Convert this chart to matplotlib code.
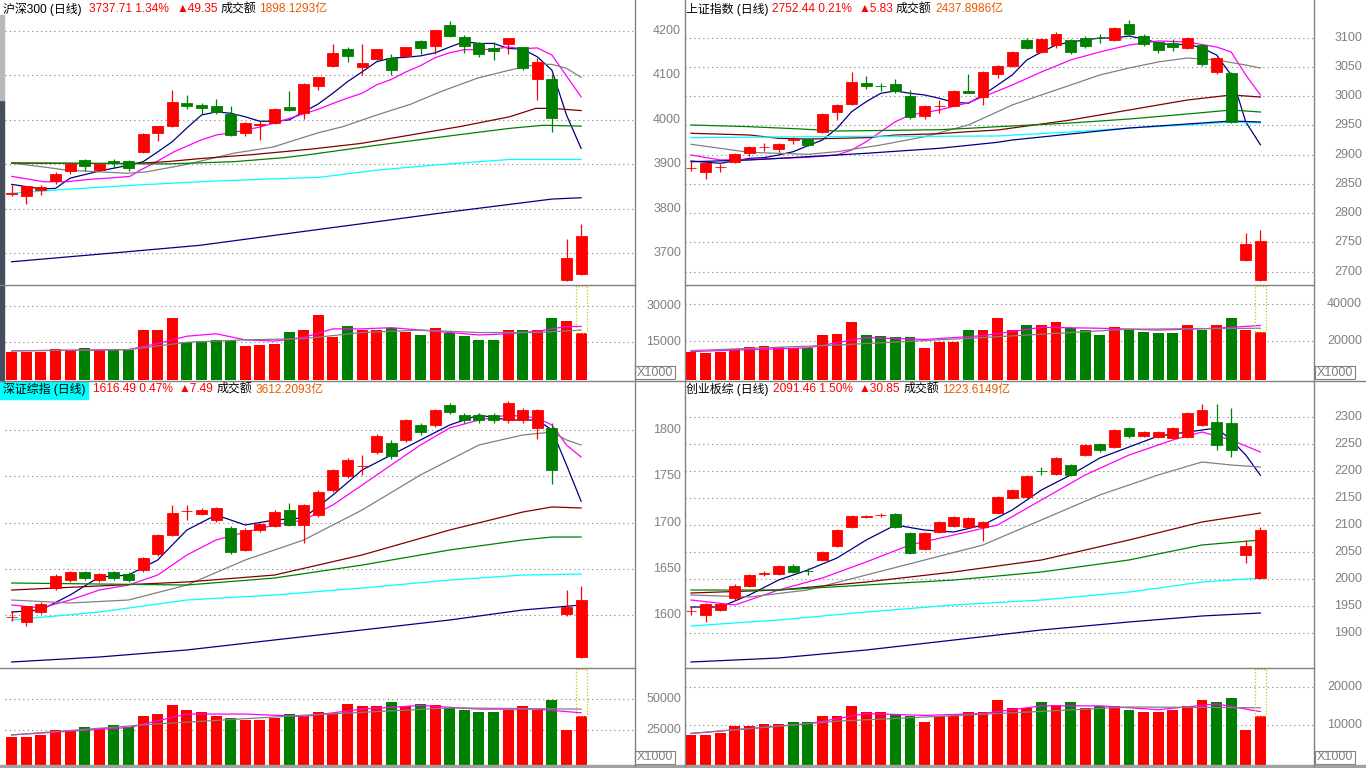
import matplotlib
matplotlib.use('Agg')
import matplotlib.pyplot as plt
from matplotlib.patches import Rectangle
from matplotlib.lines import Line2D
from matplotlib.transforms import blended_transform_factory

plt.rcParams['font.family'] = ['Liberation Sans', 'Noto Sans CJK SC', 'DejaVu Sans']

# ---------------- 沪深300 (top left) ----------------
HS_O = [3834.5, 3828, 3842, 3862, 3885, 3909, 3887, 3907, 3907, 3927, 3970, 3986, 4038, 4034, 4031, 4013,
        3971, 3988, 3994, 4029, 4016, 4077, 4121, 4159, 4119, 4137, 4139, 4144, 4177, 4166, 4214, 4186,
        4173, 4162, 4171, 4164, 4093, 4093, 3640, 3653]
HS_H = [3853, 3851, 3853, 3882, 3903, 3912, 3901, 3912, 3909, 3970, 3986, 4067, 4056, 4038, 4047, 4031,
        3995, 3997, 4027, 4065, 4083, 4097, 4171, 4164, 4171, 4160, 4148, 4165, 4180, 4203, 4223, 4191,
        4175, 4175, 4185, 4165, 4139, 4103, 3732, 3765]
HS_L = [3828, 3810, 3831, 3855, 3878, 3885, 3885, 3891, 3885, 3926, 3953, 3984, 4024, 4013, 4013, 3964,
        3964, 3955, 3991, 4020, 4002, 4068, 4120, 4131, 4101, 4135, 4101, 4141, 4148, 4148, 4186, 4151,
        4141, 4135, 4148, 4112, 4045, 3973, 3638, 3652]
HS_C = [3835, 3851, 3849, 3878, 3900, 3897, 3900, 3903, 3891, 3968, 3986, 4040, 4031, 4027, 4018, 3966,
        3993, 3991, 4024, 4023, 4081, 4096, 4150, 4144, 4128, 4159, 4112, 4164, 4162, 4202, 4189, 4167,
        4149, 4156, 4184, 4116, 4130, 4005, 3689, 3738]
HS_VOL = [11065, 11065, 11065, 12294, 11884, 12704, 11884, 12294, 11884, 20080, 20080, 24998, 15163, 15572,
          15982, 15982, 13523, 13933, 14343, 19261, 20080, 26227, 17212, 21719, 20080, 20080, 20900, 19261,
          18031, 20900, 18851, 17621, 15982, 15982, 20080, 20080, 20080, 24998, 23768, 18851]
HS_MA5 = [(0, 3855), (2, 3845), (3, 3846), (4, 3869), (6, 3885), (8, 3898), (9, 3906), (10, 3928), (11, 3951),
          (12, 3982), (13, 4011), (14, 4018), (15, 4015), (16, 4007), (17, 3997), (18, 3997), (19, 4000),
          (20, 4018), (21, 4036), (22, 4060), (23, 4086), (24, 4108), (25, 4131), (26, 4139), (27, 4141),
          (28, 4144), (29, 4151), (30, 4164), (31, 4176), (32, 4172), (33, 4172), (34, 4161), (35, 4159),
          (36, 4142), (37, 4112), (38, 4011), (39, 3936)]
HS_MA10 = [(0, 3873), (2.2, 3861), (3.8, 3861), (5.2, 3866), (7, 3870), (8.1, 3873), (8.8, 3887), (9.7, 3902),
           (11.1, 3928), (12.9, 3954), (14, 3966), (15.2, 3972), (17, 3984), (18.6, 3999), (21, 4024),
           (22, 4037), (23, 4049), (24, 4060), (25, 4079), (26, 4091), (27, 4108), (28, 4122), (29, 4140),
           (30, 4151), (31, 4158), (32, 4158), (33, 4159), (34, 4164), (35, 4160), (36, 4162), (37, 4146),
           (38, 4099), (39, 4052)]
HS_MA20 = [(0, 3903), (2.2, 3894), (3.8, 3887), (7.9, 3880), (9.2, 3883), (12, 3900), (15.2, 3925), (17.9, 3939),
           (20.4, 3965), (21.1, 3972), (22.7, 3985), (25, 4011), (27.3, 4035), (29.5, 4065), (31.9, 4094),
           (34.1, 4112), (35.5, 4122), (36.4, 4125), (37, 4125), (38, 4116), (39, 4096)]
HS_MA30 = [(0, 3903), (8.3, 3902), (10.6, 3906), (12.9, 3913), (16.5, 3922), (20.4, 3934), (23.9, 3947),
           (27.3, 3966), (30.7, 3985), (34.1, 4007), (35.9, 4026), (37, 4026), (39, 4021)]
HS_MA60 = [(0, 3903), (10.6, 3901), (15.2, 3906), (18.6, 3915), (20.4, 3922), (25, 3943), (29.5, 3962),
           (34.1, 3981), (36.4, 3988), (39, 3986)]
HS_MA120 = [(0, 3835), (3.8, 3844), (8.3, 3853), (12.9, 3861), (17.5, 3867), (21.1, 3871), (25, 3887),
            (29.5, 3900), (34.1, 3911), (39, 3911)]
HS_MA250 = [(0, 3681), (7.4, 3702), (12.9, 3718), (21.1, 3754), (25, 3771), (29.5, 3791), (34.1, 3810),
            (37, 3822), (39, 3825)]
HS_VMA5 = [(0, 11500), (8, 12000), (10, 14500), (12, 17500), (14, 18500), (16, 16000), (18, 15500), (20, 17000),
           (22, 20500), (24, 20500), (26, 21000), (28, 20000), (30, 19000), (32, 18000), (34, 18500),
           (36, 19500), (38, 21500), (39, 21500)]
HS_VMA10 = [(0, 11500), (8, 12000), (12, 15000), (16, 16000), (20, 16500), (24, 19000), (28, 20000),
            (32, 19000), (36, 19000), (39, 20000)]

# ---------------- 上证指数 (top right) ----------------
SH_O = [2876.7, 2871, 2878.5, 2888, 2903, 2912.8, 2910.3, 2925.6, 2926.8, 2938.3, 2973.5, 2986.2, 3022, 3017.8,
        3020.9, 3000.9, 2966.7, 2983, 2983.8, 3008.4, 2999.1, 3038.5, 3051.6, 3096, 3075.5, 3087.5, 3096,
        3099.5, 3099.8, 3096, 3123.4, 3102.9, 3092.6, 3091, 3082.4, 3087.5, 3041.4, 3039.7, 2720, 2685.8]
SH_H = [2889, 2887, 2883.6, 2903, 2915, 2919.5, 2920.5, 2930.8, 2928.5, 2971.3, 2986, 3041.9, 3034.5, 3022,
        3029.4, 3010.6, 2985, 2993.5, 3010.6, 3037.9, 3043, 3053.3, 3078, 3100, 3099, 3110, 3098, 3103,
        3106, 3118, 3130, 3106, 3094, 3097, 3101, 3090, 3067, 3041, 2766.5, 2771.6]
SH_L = [2872, 2858.5, 2871, 2885.8, 2898, 2906.3, 2905, 2917.8, 2915, 2937, 2959.3, 2984.4, 3012.8, 3009.4,
        3006, 2961.5, 2961.5, 2971.8, 2983.2, 3006, 2985, 3031.6, 3050, 3080, 3074, 3083, 3072, 3082, 3091,
        3095, 3103, 3085, 3074, 3078, 3080, 3052, 3038, 2954, 2718, 2684]
SH_C = [2877.5, 2886.3, 2879, 2900.7, 2913.2, 2913.3, 2918.3, 2926.3, 2916.6, 2969.6, 2985, 3024.3, 3018,
        3017.4, 3009.4, 2964.9, 2983.2, 2983.5, 3008.9, 3006, 3041.4, 3051.6, 3075.5, 3082.4, 3097.8, 3106.3,
        3075.5, 3085.8, 3099.3, 3116.6, 3106.3, 3089.2, 3079, 3084, 3099.5, 3055, 3065.3, 2955.9, 2746.6,
        2752.4]
SH_VOL = [14263, 13727, 14263, 15872, 16944, 17480, 16944, 16408, 16408, 23378, 23915, 30349, 23378, 22842,
          22306, 22306, 16408, 19625, 19625, 26059, 26059, 32494, 26059, 28740, 28740, 30349, 27131, 26059,
          23378, 27668, 26059, 24987, 24451, 24451, 28740, 26059, 28740, 32494, 26059, 24987]
SH_MA5 = [(0, 2889.2), (2, 2885.3), (3, 2889.2), (4, 2893.8), (5, 2894.9), (6, 2899.5), (7, 2905.1),
          (8, 2915.4), (9, 2925.1), (10, 2945.1), (11, 2973.5), (12, 2990.6), (13, 3005), (14, 3008.9),
          (15, 3005), (16, 3002.1), (17, 2996.4), (18, 2989.6), (19, 2987.9), (20, 3002.1), (21, 3019.1),
          (22, 3036.2), (23, 3061.9), (24, 3075.6), (25, 3087.5), (26, 3092.6), (27, 3096.1), (28, 3099.5),
          (29, 3099.5), (30, 3102.9), (31, 3097.8), (32, 3090.9), (33, 3087.5), (34, 3089.2), (35, 3082.4),
          (36, 3070.4), (37, 3036.2), (38, 2955.9), (39, 2917)]
SH_MA10 = [(0, 2899.5), (2, 2891), (5, 2892.6), (8, 2895.6), (10, 2899.5), (11, 2908), (12, 2922.2),
           (13, 2939.3), (14, 2956.4), (15, 2967.9), (17, 2976.4), (19, 2988.9), (21, 3008.9), (22, 3019.1),
           (24, 3041.4), (26, 3061.9), (28, 3075.6), (30, 3087.5), (32, 3094.4), (34, 3092.6), (36, 3084.1),
           (37, 3075.6), (38, 3036.2), (39, 3002.1)]
SH_MA20 = [(0, 2917.8), (2, 2910.9), (4, 2904), (8, 2900.7), (10, 2905.1), (13, 2916.6), (16, 2930.8),
           (19, 2950.8), (21, 2973.5), (22, 2985), (24, 3002.1), (26, 3019.1), (28, 3036.2), (30, 3048.2),
           (32, 3058.5), (34, 3065.3), (36, 3061.9), (38, 3053.3), (39, 3048.2)]
SH_MA30 = [(0, 2936.6), (4, 2933.7), (6, 2928), (8, 2926.8), (12, 2929.1), (14, 2933.7), (17, 2935.9),
           (19, 2939.3), (21, 2942.2), (22, 2945.6), (26, 2959.3), (30, 2976.4), (34, 2993.5), (37, 3002.1),
           (39, 2998.6)]
SH_MA60 = [(0, 2950.8), (4, 2947.9), (7.5, 2944), (10, 2940.5), (14, 2941.7), (17, 2942.7), (19, 2945.1),
           (21, 2947.9), (22, 2949.1), (26, 2954.2), (30, 2961), (34, 2969.6), (37, 2976.4), (39, 2973)]
SH_MA120 = [(0, 2929.1), (6, 2930.3), (12, 2931.5), (17, 2931.5), (21, 2932), (26, 2938.8), (30, 2945.6),
            (34, 2950.8), (37, 2955.9), (39, 2954.2)]
SH_MA250 = [(0, 2888), (4, 2890.9), (8, 2896.6), (12, 2902.4), (17, 2910.9), (21, 2921.2), (22, 2925.1),
            (26, 2935.4), (30, 2945.6), (34, 2952.5), (37, 2957.6), (39, 2955.9)]
SH_VMA5 = [(0, 14500), (8, 16500), (12, 22000), (16, 21000), (20, 23000), (24, 27500), (28, 27000),
           (32, 26000), (36, 27000), (39, 28500)]
SH_VMA10 = [(0, 15000), (10, 18000), (20, 22000), (30, 26500), (39, 27000)]

# ---------------- 深证综指 (bottom left) ----------------
SZ_O = [1597.8, 1592.4, 1603.2, 1629.2, 1637.8, 1646.5, 1637.8, 1646.5, 1644.3, 1648.6, 1665.9, 1686.5, 1712,
        1709.2, 1702.7, 1694, 1670.3, 1691.9, 1696.2, 1713.5, 1697.3, 1708.1, 1735.1, 1750.3, 1761, 1776.2,
        1786, 1789.2, 1805.4, 1805.4, 1827, 1816.2, 1816.2, 1816.2, 1810.8, 1810.8, 1802.2, 1802.2, 1601,
        1554.6]
SZ_H = [1604.3, 1610, 1614, 1644, 1648, 1648, 1645, 1648, 1646, 1663, 1688, 1719, 1719, 1716, 1717, 1696, 1694,
        1700, 1713, 1721, 1720, 1735, 1758, 1770, 1773, 1796, 1789, 1812, 1808, 1823, 1829, 1818, 1818, 1818,
        1831, 1824, 1823, 1808, 1627, 1631.4]
SZ_L = [1593.5, 1588.1, 1601, 1627, 1636, 1638, 1636, 1638, 1636, 1647, 1664, 1685, 1702.7, 1708, 1701, 1666,
        1669, 1690, 1695, 1696, 1678, 1706, 1733, 1748, 1751, 1774, 1769, 1787, 1795, 1803, 1817, 1808, 1808,
        1808, 1808, 1808, 1790, 1741.6, 1599, 1553]
SZ_C = [1598.2, 1609.7, 1611.9, 1642.2, 1646.5, 1640, 1644.3, 1640, 1637.8, 1661.6, 1686.5, 1710.3, 1712.5,
        1713.5, 1715.7, 1668.1, 1691.9, 1698.4, 1711.3, 1697.3, 1718.9, 1733, 1756.8, 1767.6, 1761.5, 1793.5,
        1771.9, 1810.8, 1797.8, 1821.6, 1819.5, 1810.8, 1810.8, 1810.8, 1829.2, 1821.6, 1821.6, 1756.8, 1609,
        1616.5]
SZ_VOL = [19299, 19299, 20928, 24999, 24999, 27442, 26628, 29071, 27442, 36399, 38028, 45357, 41285, 39656,
          36399, 34770, 33142, 33142, 34770, 38028, 36399, 39656, 38028, 46171, 44542, 44542, 47800, 44542,
          46171, 45357, 42914, 41285, 39656, 39656, 41285, 44542, 41285, 49428, 24999, 36399]
SZ_MA5 = [(0, 1603.2), (2, 1605.4), (4, 1621.6), (6, 1641.1), (8, 1643.2), (10, 1659.5), (12, 1691.9),
          (14, 1708.1), (16, 1697.3), (18, 1702.7), (20, 1704.9), (22, 1729.7), (24, 1756.8), (26, 1773),
          (28, 1789.2), (30, 1805.4), (32, 1816.2), (34, 1810.8), (36, 1810.8), (37, 1800), (38, 1762.2),
          (39, 1723)]
SZ_MA10 = [(0, 1610.8), (2, 1607.6), (4, 1616.2), (6, 1627), (8, 1632.4), (10, 1643.2), (12, 1664.9),
           (14, 1681.1), (16, 1689.7), (18, 1697.3), (20, 1702.7), (22, 1718.9), (24, 1740.5), (26, 1762.2),
           (28, 1783.8), (30, 1802.2), (32, 1810.8), (34, 1816.2), (36, 1813), (37, 1805.4), (38, 1783.8),
           (39, 1770.8)]
SZ_MA20 = [(0, 1616.2), (4, 1613), (8, 1616.2), (12, 1632.4), (16, 1659.5), (20, 1681.1), (24, 1713.5),
           (28, 1751.4), (32, 1783.8), (35, 1794.6), (37, 1797.8), (38, 1789.2), (39, 1783.8)]
SZ_MA30 = [(0, 1627), (6, 1631.4), (12, 1635.7), (18, 1643.2), (24, 1664.9), (30, 1691.9), (35, 1711.3),
           (37, 1716.8), (39, 1715.7)]
SZ_MA60 = [(0, 1634.6), (6, 1633.5), (12, 1632.4), (18, 1640), (24, 1654), (30, 1670.3), (35, 1681.1),
           (37, 1684.3), (39, 1684.3)]
SZ_MA120 = [(0, 1594.6), (6, 1603.2), (12, 1616.2), (18, 1621.6), (24, 1629.2), (30, 1637.8), (35, 1643.2),
            (39, 1644.3)]
SZ_MA250 = [(0, 1549.2), (6, 1554.6), (12, 1562.2), (18, 1573), (24, 1583.8), (30, 1594.6), (35, 1605.4),
            (39, 1610.8)]
SZ_VMA5 = [(0, 21000), (8, 27000), (12, 38000), (16, 38000), (20, 36000), (24, 42000), (28, 45000),
           (32, 42000), (36, 42000), (39, 39000)]
SZ_VMA10 = [(0, 21000), (10, 30000), (20, 37000), (30, 43000), (39, 42000)]

# ---------------- 创业板综 (bottom right) ----------------
CY_O = [1940.7, 1933.3, 1942.6, 1964.8, 1987, 2010, 2009.3, 2024.1, 2015, 2035.2, 2061.1, 2096.3, 2115.5,
        2118.3, 2120.4, 2085.2, 2055.6, 2087, 2098.1, 2096.3, 2096.3, 2122.2, 2150, 2151.9, 2200.3, 2194.4,
        2211.1, 2229.6, 2250, 2244.4, 2279.6, 2264.8, 2263, 2261.1, 2263, 2285.2, 2290.7, 2288.9, 2044.4,
        2001.9]
CY_H = [1950, 1955, 1956, 1990, 2010, 2015, 2026, 2027, 2020, 2052, 2092, 2118, 2119, 2122, 2123, 2087, 2087,
        2107, 2117, 2115, 2108, 2154, 2167, 2193, 2207, 2226, 2213, 2250, 2252, 2278, 2282, 2274, 2274, 2281,
        2309, 2324, 2324, 2316, 2073, 2097]
CY_L = [1933.3, 1920.4, 1940, 1962, 1985, 2006, 2007, 2011, 2008, 2033, 2059, 2094, 2113, 2115, 2094, 2046,
        2053, 2085, 2096, 2094, 2070, 2120, 2148, 2150, 2192, 2192, 2190, 2227, 2236, 2242, 2262, 2263, 2261,
        2259, 2261, 2283, 2239, 2226, 2030, 2000]
CY_C = [1941.3, 1953.7, 1953.7, 1987, 2007.4, 2010.5, 2024.1, 2013, 2014.5, 2050, 2090.7, 2116.7, 2116,
        2118.7, 2096.3, 2048.1, 2085.2, 2105.6, 2114.8, 2113, 2105.6, 2151.9, 2164.8, 2190.7, 2199.7, 2224.1,
        2192.6, 2248.1, 2238.9, 2275.9, 2264.8, 2272.2, 2272.2, 2279.6, 2307.4, 2313, 2248.1, 2238.9, 2060.6,
        2091.5]
CY_VOL = [7389, 7389, 7911, 9739, 9739, 10261, 10261, 10783, 10783, 12350, 12350, 14961, 13394, 13394, 12872,
          12350, 10783, 12350, 12350, 13394, 13394, 16528, 14439, 14439, 16005, 15222, 16005, 14439, 14961,
          14961, 13917, 13394, 13394, 13917, 14961, 16528, 16005, 17050, 8695, 12350]
CY_MA5 = [(0, 1948.1), (2, 1948.1), (4, 1970.4), (6, 1998.1), (8, 2016.7), (10, 2038.9), (12, 2072.2),
          (14, 2100), (16, 2090.7), (18, 2087), (20, 2100), (22, 2127.8), (24, 2164.8), (26, 2192.6),
          (28, 2224.1), (30, 2244.4), (32, 2264.8), (34, 2272.2), (36, 2279.6), (37, 2257.4), (38, 2229.6),
          (39, 2192)]
CY_MA10 = [(0, 1961.1), (3, 1951.9), (6, 1979.6), (9, 2001.9), (12, 2031.5), (15, 2063), (18, 2081.5),
           (21, 2100), (24, 2146.3), (27, 2192.6), (30, 2229.6), (33, 2257.4), (35, 2272.2), (37, 2257.4),
           (39, 2235.2)]
CY_MA20 = [(0, 1970.4), (4, 1966.7), (8, 1979.6), (12, 2007.4), (16, 2035.2), (20, 2063), (24, 2109.3),
           (28, 2155.6), (32, 2192.6), (35, 2216.7), (37, 2211.1), (39, 2207.4)]
CY_MA30 = [(0, 1974.1), (6, 1979.6), (12, 1994.4), (18, 2013), (24, 2035.2), (30, 2072.2), (35, 2105.6),
           (39, 2122.2)]
CY_MA60 = [(0, 1979.6), (6, 1979.6), (12, 1988.9), (18, 1998.1), (24, 2013), (30, 2035.2), (35, 2063),
           (39, 2072.2)]
CY_MA120 = [(0, 1913), (6, 1924.1), (12, 1938.9), (18, 1951.9), (24, 1961.1), (30, 1975.9), (35, 1994.4),
            (39, 2001.9)]
CY_MA250 = [(0, 1846.3), (6, 1853.7), (12, 1868.5), (18, 1887), (24, 1905.6), (30, 1920.4), (35, 1931.5),
            (39, 1937)]
CY_VMA5 = [(0, 7800), (8, 10300), (12, 13000), (16, 12500), (20, 13000), (24, 15000), (28, 15000), (32, 14000),
           (36, 15500), (39, 13500)]
CY_VMA10 = [(0, 7800), (10, 11000), (20, 12800), (30, 14700), (39, 14500)]

# axis ticks
HS_TICKS = [3700, 3800, 3900, 4000, 4100, 4200]
SH_TICKS = [2700, 2750, 2800, 2850, 2900, 2950, 3000, 3050, 3100]
SZ_TICKS = [1600, 1650, 1700, 1750, 1800]
CY_TICKS = [1900, 1950, 2000, 2050, 2100, 2150, 2200, 2250, 2300]
HS_VTICKS = [15000, 30000]
SH_VTICKS = [20000, 40000]
SZ_VTICKS = [25000, 50000]
CY_VTICKS = [10000, 20000]

# headers
HS_HEAD = ['沪深300 (日线)', '3737.71 1.34%', '▲49.35', '成交额', '1898.1293亿']
SH_HEAD = ['上证指数 (日线)', '2752.44 0.21%', '▲5.83', '成交额', '2437.8986亿']
SZ_HEAD = ['深证综指 (日线)', '1616.49 0.47%', '▲7.49', '成交额', '3612.2093亿']
CY_HEAD = ['创业板综 (日线)', '2091.46 1.50%', '▲30.85', '成交额', '1223.6149亿']

W, H = 1366, 768
RED = '#ff0000'
GREEN = '#008000'
GRID = '#808080'
MA_COLORS = ['#000080', '#ff00ff', '#808080', '#800000', '#008000', '#00ffff', '#000080']
HEAD_COLORS = ['black', '#ff0000', '#ff0000', 'black', '#e65c00']
HEAD_FAMILY = [['Liberation Sans', 'Noto Sans CJK SC'], ['Liberation Sans'], ['Liberation Sans', 'DejaVu Sans'],
               ['Noto Sans CJK SC'], ['Liberation Sans', 'Noto Sans CJK SC']]

fig = plt.figure(figsize=(W / 100, H / 100), dpi=100, facecolor='white')


def px_axes(x0, y0, x1, y1):
    ax = fig.add_axes([x0 / W, 1 - y1 / H, (x1 - x0) / W, (y1 - y0) / H])
    ax.set_facecolor('none')
    for s in ax.spines.values():
        s.set_visible(False)
    ax.set_xticks([])
    ax.set_yticks([])
    return ax


def calib(y0, y1, pa, va, pb, vb):
    """value range of an axes spanning pixel rows y0..y1, from two labelled rows"""
    k = (va - vb) / (pb - pa)
    return va - (y1 - pa) * k, va - (y0 - pa) * k


def fig_line(x0, y0, x1, y1, color='#808080', lw=1.0):
    fig.add_artist(Line2D([x0 / W, x1 / W], [1 - y0 / H, 1 - y1 / H], color=color, lw=lw))


def price_panel(ax, o, h, l, c, mas, ticks, label_x):
    tr = blended_transform_factory(ax.transAxes, ax.transData)
    for v in ticks:
        ax.axhline(v, color=GRID, lw=0.8, ls=(0, (1, 3)), zorder=0)
        ax.text(label_x, v, str(v), transform=tr, ha='right', va='center', color=GRID,
                fontsize=9, clip_on=False)
    for ma, col in zip(mas, MA_COLORS):
        ax.plot([p[0] for p in ma], [p[1] for p in ma], color=col, lw=0.9, zorder=2)
    for i in range(len(o)):
        col = RED if c[i] >= o[i] else GREEN
        ax.vlines(i, l[i], h[i], color=col, lw=0.9, zorder=3)
        lo, hi = min(o[i], c[i]), max(o[i], c[i])
        ax.add_patch(Rectangle((i - 0.37, lo), 0.74, hi - lo, facecolor=col, edgecolor=col,
                               lw=0.6, zorder=4))


def volume_panel(ax, o, c, vol, vmas, ticks, label_x):
    tr = blended_transform_factory(ax.transAxes, ax.transData)
    y_lo, y_hi = ax.get_ylim()
    for v in ticks:
        ax.axhline(v, color=GRID, lw=0.8, ls=(0, (1, 3)), zorder=0)
        ax.text(label_x, v, str(v), transform=tr, ha='right', va='center', color=GRID,
                fontsize=9, clip_on=False)
    cols = [RED if c[i] >= o[i] else GREEN for i in range(len(vol))]
    ax.bar(range(len(vol)), [v - y_lo for v in vol], bottom=y_lo, width=0.74, color=cols, zorder=2)
    for ma, col in zip(vmas, ['#ff00ff', '#808080']):
        ax.plot([p[0] for p in ma], [p[1] for p in ma], color=col, lw=0.9, zorder=3)
    n = len(vol) - 1
    ax.add_patch(Rectangle((n - 0.37, vol[n]), 0.74, y_hi - vol[n], fill=False,
                           edgecolor='#c8c800', lw=0.9, ls=(0, (1, 1.5)), zorder=3))


def header(items, x_starts, yc, bg=None):
    if bg is not None:
        fig.add_artist(Rectangle((0, 1 - (yc + 9) / H), 88 / W, 17 / H, color=bg,
                                 transform=fig.transFigure))
    for txt, x, col, fam in zip(items, x_starts, HEAD_COLORS, HEAD_FAMILY):
        fig.text(x / W, 1 - yc / H, txt, color=col, fontsize=8.6, ha='left', va='center',
                 family=fam)


def x1000_box(x0, y0):
    fig.add_artist(Rectangle((x0 / W, 1 - (y0 + 13) / H), 40 / W, 13 / H, fill=False,
                             edgecolor='#808080', lw=0.8, transform=fig.transFigure))
    fig.text((x0 + 20) / W, 1 - (y0 + 6.5) / H, 'X1000', color='#808080', fontsize=9,
             ha='center', va='center')


panels = [
    # data, x range (px), price rows, tick calibration, volume rows, volume calibration
    dict(o=HS_O, h=HS_H, l=HS_L, c=HS_C, vol=HS_VOL,
         mas=[HS_MA5, HS_MA10, HS_MA20, HS_MA30, HS_MA60, HS_MA120, HS_MA250], vmas=[HS_VMA5, HS_VMA10],
         ticks=HS_TICKS, vticks=HS_VTICKS, head=HS_HEAD,
         x=(5, 634), first=11.7, py=(17, 285), pcal=(31, 4200, 253.3, 3700),
         vy=(286, 380), vcal=(305.7, 30000, 342.3, 15000), head_y=9,
         head_x=[3, 89, 177, 221, 259], lab_x=681, bg=None),
    dict(o=SH_O, h=SH_H, l=SH_L, c=SH_C, vol=SH_VOL,
         mas=[SH_MA5, SH_MA10, SH_MA20, SH_MA30, SH_MA60, SH_MA120, SH_MA250], vmas=[SH_VMA5, SH_VMA10],
         ticks=SH_TICKS, vticks=SH_VTICKS, head=SH_HEAD,
         x=(685, 1314), first=691, py=(17, 285), pcal=(37.7, 3100, 271.7, 2700),
         vy=(286, 380), vcal=(304, 40000, 341.3, 20000), head_y=9,
         head_x=[686, 772, 859, 896, 935], lab_x=1362, bg=None),
    dict(o=SZ_O, h=SZ_H, l=SZ_L, c=SZ_C, vol=SZ_VOL,
         mas=[SZ_MA5, SZ_MA10, SZ_MA20, SZ_MA30, SZ_MA60, SZ_MA120, SZ_MA250], vmas=[SZ_VMA5, SZ_VMA10],
         ticks=SZ_TICKS, vticks=SZ_VTICKS, head=SZ_HEAD,
         x=(5, 634), first=11.7, py=(398, 668), pcal=(430, 1800, 615, 1600),
         vy=(669, 765), vcal=(699.3, 50000, 730, 25000), head_y=389.5,
         head_x=[3, 93, 179, 217, 256], lab_x=681, bg='#00ffff'),
    dict(o=CY_O, h=CY_H, l=CY_L, c=CY_C, vol=CY_VOL,
         mas=[CY_MA5, CY_MA10, CY_MA20, CY_MA30, CY_MA60, CY_MA120, CY_MA250], vmas=[CY_VMA5, CY_VMA10],
         ticks=CY_TICKS, vticks=CY_VTICKS, head=CY_HEAD,
         x=(685, 1314), first=691, py=(398, 668), pcal=(417, 2300, 633, 1900),
         vy=(669, 765), vcal=(686.7, 20000, 725, 10000), head_y=389.5,
         head_x=[686, 773, 859, 904, 942], lab_x=1362, bg=None),
]

STEP = 14.6
for p in panels:
    x0, x1 = p['x']
    xlim = ((x0 - p['first']) / STEP, (x1 - p['first']) / STEP)
    lab = (p['lab_x'] - x0) / (x1 - x0)

    ax = px_axes(x0, p['py'][0], x1, p['py'][1])
    ax.set_xlim(*xlim)
    ax.set_ylim(*calib(p['py'][0], p['py'][1], *p['pcal']))
    price_panel(ax, p['o'], p['h'], p['l'], p['c'], p['mas'], p['ticks'], lab)

    axv = px_axes(x0, p['vy'][0], x1, p['vy'][1])
    axv.set_xlim(*xlim)
    axv.set_ylim(*calib(p['vy'][0], p['vy'][1], *p['vcal']))
    volume_panel(axv, p['o'], p['c'], p['vol'], p['vmas'], p['vticks'], lab)

    header(p['head'], p['head_x'], p['head_y'], p['bg'])
    x1000_box(x1 + 1, p['vy'][1] - 14)

# frame lines
fig_line(634.5, 0, 634.5, 766)
fig_line(685, 0, 685, 766)
fig_line(1314, 0, 1314, 766)
for yy in (285, 668):
    fig_line(0, yy, 634.5, yy)
    fig_line(685, yy, 1314, yy)
fig_line(0, 381, W, 381)
fig.add_artist(Rectangle((0, 0), 1, 3 / H, color='#a0a0a0', transform=fig.transFigure))
fig.add_artist(Rectangle((0, 1 - 381 / H), 4 / W, (381 - 100) / H, color='#454c5c',
                         transform=fig.transFigure))
fig.add_artist(Rectangle((0, 1 - 100 / H), 4 / W, 85 / H, color='#b8b8b8',
                         transform=fig.transFigure))

fig.savefig('out.png', dpi=100, facecolor='white')
